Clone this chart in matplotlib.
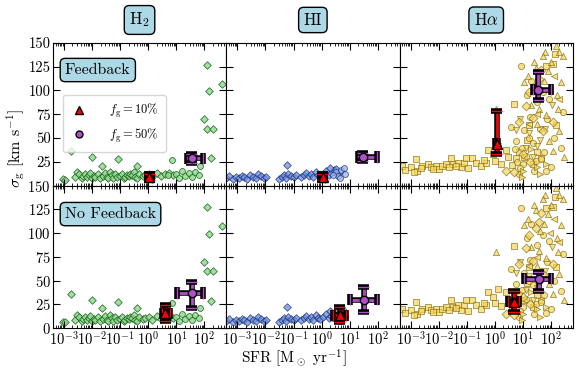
import numpy as np
import matplotlib
matplotlib.use("Agg")
import matplotlib.pyplot as plt
import matplotlib.patheffects as pe
from matplotlib.lines import Line2D
from matplotlib.ticker import LogLocator, NullFormatter

plt.rcParams["font.family"] = "serif"
plt.rcParams["font.serif"] = ["cmr10"]
plt.rcParams["mathtext.fontset"] = "cm"
plt.rcParams["axes.formatter.use_mathtext"] = True
plt.rcParams["axes.unicode_minus"] = False

# ---- Beobachtungsdaten (log10 SFR, sigma) ----
h2_dia_logsfr = [-3.05, -2.95, -2.74, -2.61, -2.55, -2.45, -2.37, -2.31, -2.25, -2.19,
                 -2.12, -2.07, -2.01, -2.0, -1.95, -1.89, -1.8, -1.71, -1.65, -1.6,
                 -1.54, -1.48, -1.42, -1.36, -1.3, -1.24, -1.18, -1.12, -1.08, -1.0,
                 -0.94, -0.88, -0.82, -0.76, -0.7, -0.64, -0.58, -0.52, -0.46, -0.4,
                 -0.39, -0.34, -0.2, -0.11, 0.01, 0.13, 0.31, 0.45, 0.6, 0.75,
                 0.9, 2.1, 2.64, 2.18, 2.0, 2.1, 2.3, 2.25]
h2_dia_sigma = [7, 6, 36, 9, 14, 12, 8, 10, 12, 9,
                11, 13, 8, 30, 10, 9, 12, 8, 21, 10,
                13, 9, 8, 14, 11, 8, 12, 9, 28, 10,
                12, 8, 9, 11, 10, 12, 11, 14, 9, 21,
                8, 12, 10, 11, 12, 9, 13, 10, 12, 13,
                11, 127, 107, 99, 70, 60, 60, 29]
h2_circ_logsfr = [0.86, 1.0, 1.2, 1.3, 1.45, 1.55, 1.65, 1.8, 1.86, 0.7, 1.1]
h2_circ_sigma = [27, 12, 15, 10, 13, 9, 14, 11, 21, 11, 8]

hi_dia_logsfr = [-3.4, -3.3, -3.15, -3.05, -2.95, -2.85, -2.75, -2.65, -2.55, -2.45,
                 -2.35, -2.25, -2.15, -2.05, -1.98, -1.5, -1.42, -1.35, -1.28, -1.2,
                 -1.1, -1.0, -0.9, -1.23, -0.72, -0.62, -0.55, -0.45, -0.38, -0.3,
                 -0.2, -0.12, -0.05, 0.05, 0.15, 0.25, 0.35, 0.45, 0.55, 0.65,
                 0.3, 0.5]
hi_dia_sigma = [8, 10, 7, 9, 8, 10, 9, 7, 11, 9,
                8, 12, 10, 8, 9, 7, 9, 11, 8, 12,
                10, 9, 11, 22, 9, 11, 13, 10, 12, 9,
                14, 11, 10, 12, 15, 11, 13, 16, 12, 14,
                18, 17]
hi_circ_logsfr = [0.5, 0.6, 0.7, 0.79, 0.85, 0.4, 0.65]
hi_circ_sigma = [14, 10, 16, 18, 12, 11, 8]

ha_logsfr = {
    "s": [-3.3, -3.0, -2.82, -2.76, -2.58, -2.4, -2.29, -2.11, -1.99, -1.87,
          -1.75, -1.57, -1.51, -1.33, -1.21, -1.1, -1.04, -0.8, -0.68, -0.5,
          -0.32, -0.26, -0.08, 0.1, 0.21, 0.39, -3.2, -2.9, -2.65, -2.2,
          -1.65, -1.4, -0.95, -0.4, 0.0, 0.69, 1.05, 1.34, 1.64, 0.76,
          1.23, 2.18, 2.06, 1.82, 2.13, 0.6, 0.45, 1.15, 0.85, 1.5],
    "o": [0.93, 0.57, 2.36, 1.82, 0.85, 1.23, 1.7, 1.0, 2.42, 1.46,
          0.76, 1.94, 1.1, 1.35, 1.6, 1.75, 2.0, 0.9, 1.25, 1.5,
          1.15, 0.7, 1.85, 2.1, 0.8, 1.4, 1.05, 1.3, 0.95, 1.65],
    "^": [0.04, 1.17, 1.77, 2.18, 2.42, 2.3, 1.82, 1.7, 1.58, 1.46,
          2.06, 2.36, 1.94, 2.2, 1.9, 1.62, 1.3, 1.05, 2.0, 2.45,
          1.5, 2.25, 1.75, 1.4, 2.3],
    "v": [0.9, 1.2, 1.5, 1.8, 1.1, 1.35, 2.05, 0.75, 1.6],
    "<": [2.3, 1.95, 1.5, 1.2, 2.1],
    ">": [1.82, 1.5, 1.0, 1.3, 0.95, 1.6],
    "D": [0.39, 1.46, 1.58, 1.23, 1.11, 0.87, 2.06, 1.34, 1.64, 1.0,
          1.7, 1.25, 0.69],
}
ha_sigma = {
    "s": [20.7, 19, 27.6, 15.3, 20.7, 22.4, 19, 20.7, 17.2, 20.7,
          22.4, 29.3, 22.4, 24.1, 19, 24.1, 29.3, 29.3, 24.1, 20.7,
          24.1, 37.9, 32.8, 41.4, 23, 37.9, 16, 14, 18, 17,
          19, 21, 18, 27, 26, 86, 30, 22.4, 29.3, 29.3,
          64, 64, 127.6, 126, 138, 22, 30, 48, 35, 35],
    "o": [126, 62, 39.6, 15.5, 12, 50, 98, 22.4, 77.6, 25.9,
          46.5, 91.4, 31, 45, 60, 35, 20, 18, 72, 88,
          95, 38, 70, 50, 25, 15, 58, 110, 40, 28],
    "^": [80, 115, 140, 147, 136, 57, 74, 136, 81, 124,
          36, 108.6, 46.5, 95, 120, 102, 85, 108.6, 130, 30,
          65, 80, 110, 130, 140],
    "v": [70, 55, 42, 60, 40, 30, 85, 58, 48],
    "<": [91, 100, 75, 65, 115],
    ">": [22.4, 20, 15, 38, 9, 12],
    "D": [15, 105, 112, 98, 84, 67, 67, 71, 121, 33,
          57, 25, 14],
}

# ---- Simulationen: [H2, HI, Halpha], Zeile 0 = Feedback, Zeile 1 = No Feedback ----
# fg = 10% (rot)
red_sfr = [[1.1, 1.1, 1.17], [4.1, 4.4, 4.8]]
red_sfr_lo = [[0.9, 0.9, 1.05], [3.2, 2.5, 2.9]]
red_sfr_hi = [[1.35, 1.35, 1.3], [6.2, 7.2, 7.2]]
red_sig = [[9, 9, 44], [15.5, 13.5, 28]]
red_sig_lo = [[6, 6, 33], [8, 7, 17.5]]
red_sig_hi = [[12, 12, 78], [24, 22.5, 39]]
# fg = 50% (lila)
pur_sfr = [[35, 29, 35], [35, 32, 37]]
pur_sfr_lo = [[24.5, 19.5, 23], [11, 10, 11]]
pur_sfr_hi = [[91, 91, 100], [91, 91, 100]]
pur_sig = [[28.5, 30, 101], [37, 30, 52]]
pur_sig_lo = [[24, 26, 90], [21, 17.5, 39]]
pur_sig_hi = [[33, 34, 119], [49, 43, 59]]

spalten = [r"H$_2$", "HI", r"H$\alpha$"]
zeilen = ["Feedback", "No Feedback"]
y_ticks = [0, 25, 50, 75, 100, 125, 150]
x_ticks = [1e-3, 1e-2, 1e-1, 1e0, 1e1, 1e2]

outline = [pe.Stroke(linewidth=4, foreground="black"), pe.Normal()]


def _simpunkt(ax, x, xlo, xhi, y, ylo, yhi, farbe, marker, ms):
    linie, caps, balken = ax.errorbar([x], [y], xerr=[[x - xlo], [xhi - x]],
                                      yerr=[[y - ylo], [yhi - y]],
                                      fmt=marker, color=farbe, mec="black", mew=1.0, ms=ms,
                                      elinewidth=2, capsize=4, capthick=2, zorder=10)
    for c in caps:
        c.set_path_effects(outline)
    for b in balken:
        b.set_path_effects(outline)


fig, axes = plt.subplots(2, 3, figsize=(5.81, 3.70), dpi=100)
fig.subplots_adjust(left=0.091, right=0.986, bottom=0.113, top=0.884, wspace=0, hspace=0)

for r in range(2):
    for c in range(3):
        ax = axes[r, c]
        if c == 0:
            ax.scatter(10 ** np.array(h2_dia_logsfr), h2_dia_sigma, marker="D", s=15,
                       facecolor="#8fdc8f", edgecolor="#1e5c1e", linewidths=0.6, alpha=0.85)
            ax.scatter(10 ** np.array(h2_circ_logsfr), h2_circ_sigma, marker="o", s=18,
                       facecolor="#8fdc8f", edgecolor="#1e5c1e", linewidths=0.6, alpha=0.85)
        elif c == 1:
            ax.scatter(10 ** np.array(hi_dia_logsfr), hi_dia_sigma, marker="D", s=15,
                       facecolor="#6f8fdf", edgecolor="#142a6e", linewidths=0.6, alpha=0.75)
            ax.scatter(10 ** np.array(hi_circ_logsfr), hi_circ_sigma, marker="o", s=18,
                       facecolor="#9fb6ee", edgecolor="#142a6e", linewidths=0.6, alpha=0.75)
        else:
            for m in ha_logsfr:
                ax.scatter(10 ** np.array(ha_logsfr[m]), ha_sigma[m], marker=m, s=20,
                           facecolor="#f5d55a", edgecolor="#7d6608", linewidths=0.6, alpha=0.7)

        _simpunkt(ax, red_sfr[r][c], red_sfr_lo[r][c], red_sfr_hi[r][c],
                  red_sig[r][c], red_sig_lo[r][c], red_sig_hi[r][c], "red", "^", 7)
        _simpunkt(ax, pur_sfr[r][c], pur_sfr_lo[r][c], pur_sfr_hi[r][c],
                  pur_sig[r][c], pur_sig_lo[r][c], pur_sig_hi[r][c], "#b050c8", "o", 6)

        ax.set_xscale("log")
        ax.set_xlim(4e-4, 6e2)
        ax.set_xticks(x_ticks)
        ax.xaxis.set_minor_locator(LogLocator(base=10, subs=np.arange(2, 10), numticks=30))
        ax.xaxis.set_minor_formatter(NullFormatter())
        ax.set_ylim(0, 150)
        ax.set_yticks(y_ticks)
        if c == 0:
            if r == 0:
                ax.set_yticklabels([""] + [str(t) for t in y_ticks[1:]])
        else:
            ax.set_yticklabels([])
        if r == 0:
            ax.set_xticklabels([])
        ax.tick_params(which="both", direction="in", top=True, right=True, labelsize=10.5, pad=1.5)
        ax.tick_params(which="major", length=5)
        ax.tick_params(which="minor", length=2.5)

    axes[r, 0].text(0.07, 0.81 if r == 0 else 0.80, zeilen[r], transform=axes[r, 0].transAxes,
                    fontsize=11.5, ha="left", va="center",
                    bbox=dict(boxstyle="round,pad=0.3", fc="lightblue", ec="black", lw=1))

handles = [Line2D([], [], marker="^", color="red", mec="black", ls="none", ms=6),
           Line2D([], [], marker="o", color="#b050c8", mec="black", ls="none", ms=5)]
axes[0, 0].legend(handles, [r"$f_{\rm g} = 10\%$", r"$f_{\rm g} = 50\%$"], loc="upper left",
                  bbox_to_anchor=(0.02, 0.68), fontsize=9, framealpha=0.8, borderpad=0.6,
                  handlelength=1.5, handletextpad=1.6)

for c in range(3):
    pos = axes[0, c].get_position()
    fig.text((pos.x0 + pos.x1) / 2, 0.946, spalten[c], ha="center", va="center", fontsize=12,
             bbox=dict(boxstyle="round,pad=0.3", fc="lightblue", ec="black", lw=1))

fig.text(0.028, 0.6, r"$\sigma_{\rm g}$ [km s$^{-1}$]", rotation=90, ha="center", va="center",
         fontsize=11.5)
fig.text(0.505, 0.032, r"SFR [M$_\odot$ yr$^{-1}$]", ha="center", va="center", fontsize=11)

fig.savefig("out.png", dpi=100)
